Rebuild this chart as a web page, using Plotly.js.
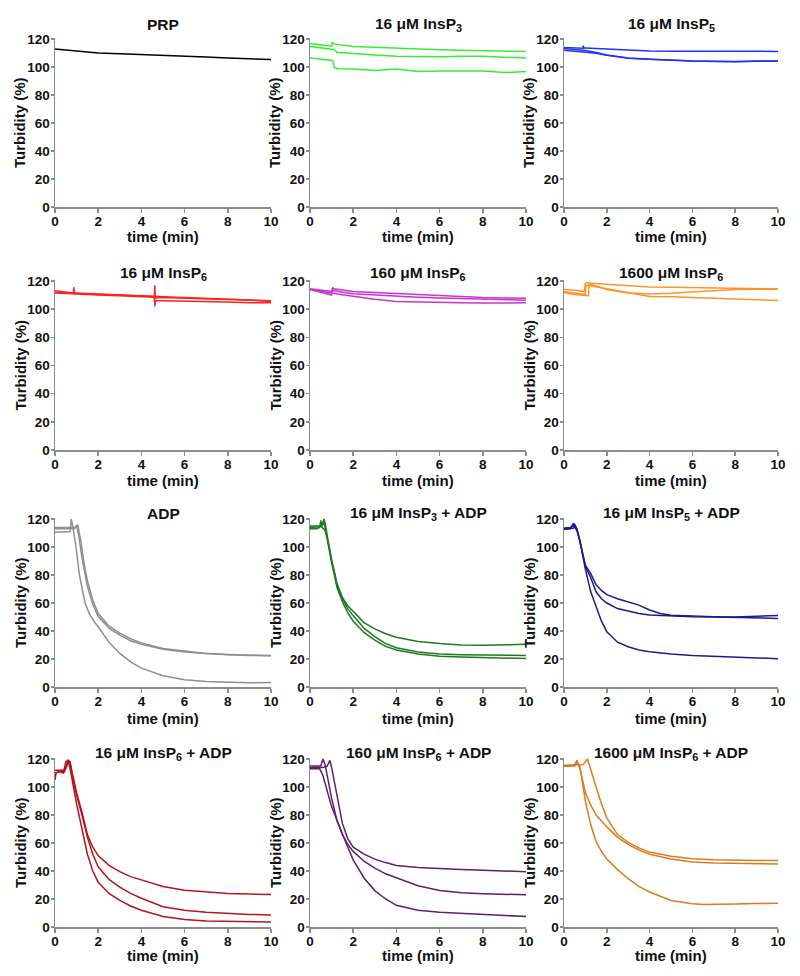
<!DOCTYPE html>
<html>
<head>
<meta charset="utf-8">
<script src="https://cdn.plot.ly/plotly-3.0.1.min.js"></script>
<style>html,body{margin:0;padding:0;background:#fff;}#chart{width:800px;height:976px;}</style>
</head>
<body>
<div id="chart"></div>
<script>
// ---------- DATA ----------
const titles = ["PRP", "16 μM InsP<sub>3</sub>", "16 μM InsP<sub>5</sub>",
  "16 μM InsP<sub>6</sub>", "160 μM InsP<sub>6</sub>", "1600 μM InsP<sub>6</sub>",
  "ADP", "16 μM InsP<sub>3</sub> + ADP", "16 μM InsP<sub>5</sub> + ADP",
  "16 μM InsP<sub>6</sub> + ADP", "160 μM InsP<sub>6</sub> + ADP", "1600 μM InsP<sub>6</sub> + ADP"];
const colors = ["#000000", "#33ee33", "#2233ee", "#ff2020", "#cc33cc", "#ff9326",
  "#8f8f8f", "#1f7a1f", "#1c1c8f", "#b3161c", "#5e1f6e", "#d97b1f"];
const xTicks = [0, 2, 4, 6, 8, 10];
const yTicks = [0, 20, 40, 60, 80, 100, 120];

// Panel 1: PRP
const prpT = [0, 0.5, 1, 1.5, 2, 3, 4, 5, 6, 7, 8, 9, 10];
const prpY = [112.8, 112, 111.2, 110.5, 110, 109.5, 109, 108.5, 108, 107.2, 106.4, 105.8, 105.3];

// Panel 2: 16 uM InsP3
const ip3aT = [0, 0.5, 1.0, 1.03, 1.1, 2, 3, 4, 5, 6, 7, 8, 9, 10];
const ip3aY = [116.8, 115.8, 114.8, 117.8, 116.5, 114.7, 114, 113.5, 113, 112.3, 112, 111.8, 111.3, 111];
const ip3bT = [0, 0.5, 1.0, 1.1, 1.25, 2, 3, 4, 5, 6, 7, 8, 9, 10];
const ip3bY = [114.7, 113.8, 112.8, 112.5, 110.5, 109.5, 108.5, 107.6, 107.4, 107.4, 107.6, 107.6, 107, 106.4];
const ip3cT = [0, 0.5, 1.05, 1.12, 1.3, 2, 3, 4, 5, 6, 7, 8, 9, 10];
const ip3cY = [106.4, 105.5, 104.7, 99.7, 98.8, 98.5, 97.5, 98.5, 96.8, 97.2, 97.3, 97.2, 96, 96.8];

// Panel 3: 16 uM InsP5
const ip5aT = [0, 0.5, 0.88, 0.9, 0.93, 1, 2, 3, 4, 5, 6, 7, 8, 9, 10];
const ip5aY = [113.9, 113.6, 113.4, 115.2, 113.5, 113.5, 112.7, 112, 111.5, 111.3, 111.3, 111.5, 111.8, 111.3, 111];
const ip5bT = [0, 1, 1.5, 2, 2.5, 3, 4, 5, 6, 7, 8, 9, 10];
const ip5bY = [112, 110.8, 109.8, 108.4, 107.2, 106.2, 105.5, 104.7, 104.2, 104, 103.7, 104.2, 104.2];
const ip5cT = [0, 0.5, 1, 1.5, 2, 3, 4, 6, 8, 10];
const ip5cY = [113.2, 112.5, 111.8, 110.3, 108.6, 106.5, 105.5, 104.3, 103.9, 104.3];

// Panel 4: 16 uM InsP6
const ip6aT = [0, 0.85, 0.87, 0.9, 2, 3, 4, 4.6, 4.62, 4.64, 5, 6, 7, 8, 9, 10];
const ip6aY = [113, 111.5, 115.5, 111.5, 110.8, 110, 109.5, 109, 117, 108, 108.3, 107.8, 107.2, 106.8, 106.3, 106];
const ip6bT = [0, 1, 2, 3, 4, 4.6, 4.62, 4.65, 5, 6, 7, 8, 9, 10];
const ip6bY = [111.5, 110.5, 110, 109.5, 109, 108.5, 102, 106.2, 106, 105.8, 105.5, 105, 104.5, 104.5];
const ip6cT = [0, 1, 2, 3, 4, 5, 6, 7, 8, 9, 10];
const ip6cY = [112, 111, 110.5, 110, 109.3, 108.8, 108.3, 107.6, 107, 106.5, 105.5];

// Panel 5: 160 uM InsP6
const m160aT = [0, 0.5, 1.0, 1.05, 1.1, 2, 3, 4, 5, 6, 7, 8, 9, 10];
const m160aY = [114.5, 113.5, 112.5, 115.5, 114.5, 112.5, 111.8, 111, 110.2, 109.5, 109, 108.3, 108, 107.8];
const m160bT = [0, 0.5, 1.0, 1.02, 1.5, 2, 3, 4, 5, 6, 7, 8, 9, 10];
const m160bY = [114, 112, 110, 113.5, 112, 111, 110, 109, 108.5, 108, 107.5, 107, 106.5, 106.3];
const m160cT = [0, 0.5, 1, 1.5, 2, 3, 4, 5, 6, 7, 8, 9, 10];
const m160cY = [114, 113, 111.5, 110.2, 109, 107, 105.5, 105, 104.5, 104.5, 104.3, 104.3, 104.5];

// Panel 6: 1600 uM InsP6
const m1600aT = [0, 0.5, 0.95, 1.0, 1.1, 2, 3, 4, 5, 6, 7, 8, 9, 10];
const m1600aY = [114, 113.5, 112.5, 118.5, 118.5, 117.5, 116.3, 115.7, 115.5, 115.3, 115, 114.6, 114.4, 114.3];
const m1600bT = [0, 0.5, 1.15, 1.17, 1.3, 2, 3, 4, 5, 6, 7, 8, 9, 10];
const m1600bY = [111.8, 110.5, 109.5, 117.5, 117.5, 114, 111.5, 110.8, 111.3, 112.2, 113, 113.9, 114.1, 114.3];
const m1600cT = [0, 0.5, 1.0, 1.02, 1.1, 2, 3, 4, 5, 6, 7, 8, 9, 10];
const m1600cY = [112.3, 111.5, 110.5, 116.5, 117, 114.5, 112, 109, 108.8, 108.3, 107.8, 107, 106.6, 106.2];

// Panel 7: ADP
const adpaT = [0, 0.5, 0.7, 0.75, 0.82, 0.97, 1.13, 1.39, 1.6, 1.8, 2.0, 2.5, 3, 3.5, 4, 5, 6, 7, 8, 9, 10];
const adpaY = [110.5, 110.5, 111, 120, 115, 100, 80, 60, 52, 47, 43, 32, 24, 18, 13.5, 8, 5.2, 4, 3.3, 3, 3.2];
const adpbT = [0, 0.5, 0.9, 1.0, 1.1, 1.25, 1.4, 1.5, 1.75, 2, 2.5, 3, 3.5, 4, 5, 6, 7, 8, 9, 10];
const adpbY = [113, 113, 113, 115.5, 108, 92, 80, 72, 59, 50.5, 42, 37, 33, 30.5, 27, 25, 24, 23, 22.5, 22.3];
const adpcT = [0, 0.5, 0.95, 1.05, 1.2, 1.35, 1.5, 1.75, 2, 2.5, 3, 3.5, 4, 5, 6, 7, 8, 9, 10];
const adpcY = [114, 114, 114, 116, 104, 88, 76, 62, 52.5, 43.5, 38.5, 34.5, 31.5, 27.5, 25.5, 24, 23, 22.5, 22.5];

// Panel 8: 16 uM InsP3 + ADP
const g3aT = [0, 0.3, 0.45, 0.5, 0.55, 0.65, 0.7, 0.8, 1.0, 1.25, 1.5, 1.75, 2, 2.5, 3, 3.5, 4, 5, 6, 7, 8, 9, 10];
const g3aY = [114, 114, 114.5, 115, 116, 120, 117, 108, 91, 74, 64, 58, 54, 46, 41.5, 38, 35.5, 32.5, 31, 30, 29.8, 30, 30.5];
const g3bT = [0, 0.3, 0.45, 0.5, 0.55, 0.7, 0.8, 1.0, 1.25, 1.5, 1.75, 2, 2.5, 3, 3.5, 4, 5, 6, 7, 8, 9, 10];
const g3bY = [113, 113, 114, 119, 114, 112, 106, 90, 73, 63, 56, 51, 42, 36, 31, 28, 25, 23.5, 23, 22.8, 22.5, 22.5];
const g3cT = [0, 0.3, 0.5, 0.6, 0.65, 0.75, 1.0, 1.25, 1.5, 1.75, 2, 2.5, 3, 3.5, 4, 5, 6, 7, 8, 9, 10];
const g3cY = [115, 115, 115, 116, 118, 110, 89, 71, 61, 53, 47, 39, 33.5, 29, 26.5, 23.5, 22, 21.5, 21, 20.8, 20.3];

// Panel 9: 16 uM InsP5 + ADP
const b5aT = [0, 0.3, 0.4, 0.5, 0.6, 0.75, 1.0, 1.25, 1.5, 1.75, 2, 2.5, 3, 3.5, 4, 5, 6, 7, 8, 9, 10];
const b5aY = [113, 113, 116, 114, 112, 104, 84, 68, 57, 47, 39.5, 32, 28.8, 26.5, 25.2, 23.5, 22.5, 22, 21.5, 21, 20.2];
const b5bT = [0, 0.3, 0.45, 0.5, 0.6, 0.75, 1.0, 1.25, 1.5, 1.75, 2, 2.5, 3, 3.5, 4, 5, 6, 7, 8, 9, 10];
const b5bY = [112.5, 113, 113.5, 116, 113, 104, 86, 78, 68, 63, 60, 56, 54, 52.5, 51.5, 50.8, 50.2, 50, 49.5, 49.2, 49];
const b5cT = [0, 0.3, 0.4, 0.45, 0.6, 0.75, 1.0, 1.25, 1.5, 1.75, 2, 2.5, 3, 3.5, 4, 4.5, 5, 6, 7, 8, 9, 10];
const b5cY = [113.5, 114, 115, 117, 113, 104, 87, 81, 73, 69, 66, 63, 60.5, 58.5, 55, 52.5, 51.2, 50.5, 50.2, 50, 50.5, 51];

// Panel 10: 16 uM InsP6 + ADP
const r6aT = [0, 0.2, 0.4, 0.55, 0.6, 0.7, 0.8, 1.0, 1.25, 1.5, 1.75, 2, 2.5, 3, 3.5, 4, 5, 6, 7, 8, 9, 10];
const r6aY = [112, 112, 112, 115, 119, 117, 110, 96, 82, 66, 57, 51, 44, 39.5, 36, 33.5, 29, 26.3, 25, 24, 23.5, 23.2];
const r6bT = [0, 0.2, 0.4, 0.5, 0.6, 0.7, 0.8, 1.0, 1.25, 1.5, 1.75, 2, 2.5, 3, 3.5, 4, 5, 6, 7, 8, 9, 10];
const r6bY = [110, 111, 110, 113, 119, 118, 108, 94, 80, 64, 52, 43, 34, 28.5, 24, 20.5, 14.5, 12, 10.5, 9.6, 9, 8.5];
const r6cT = [0, 0.05, 0.2, 0.4, 0.5, 0.6, 0.7, 0.85, 1.0, 1.25, 1.5, 1.75, 2, 2.5, 3, 3.5, 4, 5, 6, 7, 8, 9, 10];
const r6cY = [105, 110, 111, 111, 118, 119, 113, 100, 88, 70, 52, 40, 32, 24, 19, 15, 12, 7.5, 5.3, 4.3, 4, 3.6, 3.5];

// Panel 11: 160 uM InsP6 + ADP
const p6aT = [0, 0.3, 0.45, 0.6, 0.75, 1.0, 1.25, 1.5, 1.75, 2, 2.5, 3, 3.5, 4, 5, 6, 7, 8, 9, 10];
const p6aY = [113, 113, 113, 108, 99, 86, 76, 66, 57, 48, 35, 26, 20, 15.5, 12, 10.5, 9.8, 9, 8.2, 7.5];
const p6bT = [0, 0.3, 0.5, 0.6, 0.7, 0.8, 1.0, 1.25, 1.5, 1.75, 2, 2.5, 3, 3.5, 4, 5, 6, 7, 8, 9, 10];
const p6bY = [115, 115, 115, 120, 116, 108, 92, 76, 66, 59, 54, 47, 42, 38, 35, 29.5, 26, 24.5, 23.8, 23.2, 23];
const p6cT = [0, 0.3, 0.6, 0.8, 0.92, 1.0, 1.25, 1.5, 1.75, 2, 2.5, 3, 3.5, 4, 5, 6, 7, 8, 9, 10];
const p6cY = [114, 114, 114, 115, 119, 114, 94, 74, 63, 57, 52, 48.5, 46, 44, 42.5, 41.5, 41, 40.5, 40, 39.5];

// Panel 12: 1600 uM InsP6 + ADP
const o6aT = [0, 0.3, 0.5, 0.6, 0.75, 1.0, 1.25, 1.5, 1.75, 2, 2.5, 3, 3.5, 4, 5, 6, 6.5, 7, 8, 9, 10];
const o6aY = [115, 115, 116, 119, 114, 90, 73, 61, 54, 48.5, 41, 34.5, 29, 25, 19, 16.6, 16, 16, 16.4, 16.8, 17];
const o6bT = [0, 0.3, 0.5, 0.6, 0.75, 1.0, 1.25, 1.5, 1.75, 2, 2.5, 3, 3.5, 4, 5, 6, 7, 8, 9, 10];
const o6bY = [115, 115, 115, 118, 113, 96, 87, 80, 75.5, 71.5, 64, 59, 55, 52, 48.5, 46.5, 45.8, 45.5, 45.2, 45];
const o6cT = [0, 0.3, 0.6, 0.9, 1.1, 1.25, 1.5, 1.75, 2, 2.5, 3, 3.5, 4, 5, 6, 7, 8, 9, 10];
const o6cY = [115.5, 115.5, 115.5, 116, 120, 112, 100, 88, 78, 66, 60.5, 56.5, 53.5, 50.5, 48.8, 48, 47.5, 47.5, 47.5];

const panels = [
  [[prpT, prpY]],
  [[ip3aT, ip3aY], [ip3bT, ip3bY], [ip3cT, ip3cY]],
  [[ip5aT, ip5aY], [ip5bT, ip5bY], [ip5cT, ip5cY]],
  [[ip6aT, ip6aY], [ip6bT, ip6bY], [ip6cT, ip6cY]],
  [[m160aT, m160aY], [m160bT, m160bY], [m160cT, m160cY]],
  [[m1600aT, m1600aY], [m1600bT, m1600bY], [m1600cT, m1600cY]],
  [[adpaT, adpaY], [adpbT, adpbY], [adpcT, adpcY]],
  [[g3aT, g3aY], [g3bT, g3bY], [g3cT, g3cY]],
  [[b5aT, b5aY], [b5bT, b5bY], [b5cT, b5cY]],
  [[r6aT, r6aY], [r6bT, r6bY], [r6cT, r6cY]],
  [[p6aT, p6aY], [p6bT, p6bY], [p6cT, p6cY]],
  [[o6aT, o6aY], [o6bT, o6bY], [o6cT, o6cY]]
];

// ---------- LAYOUT ----------
const W = 800, H = 976;
const colX = [[55, 271], [310, 526], [564, 778]];
const rowY = [[39, 207], [281, 450], [519, 687], [759, 927]];
const titleY = [24.5, 273.5, 513.5, 753.5];
const xTitleOff = [29, 30, 31, 28];
const FONT = "Liberation Sans, Arial, sans-serif";
const axisGrey = "#8c8c8c";

const px = v => v / W;
const py = v => 1 - v / H;

const traces = [];
const layout = {
  width: W, height: H,
  margin: {l: 0, r: 0, t: 0, b: 0},
  paper_bgcolor: "#fff", plot_bgcolor: "#fff",
  showlegend: false,
  font: {family: FONT, color: "#111"},
  annotations: []
};

panels.forEach((series, i) => {
  const r = Math.floor(i / 3), c = i % 3;
  const n = i + 1;
  const sfx = n === 1 ? "" : String(n);
  const [top, bot] = rowY[r];
  const pxPerUnit = (bot - top) / 120;
  const topExt = top - pxPerUnit * 1; // range up to 121
  layout["xaxis" + sfx] = {
    domain: [px(colX[c][0]), px(colX[c][1])],
    anchor: "y" + sfx,
    range: [0, 10], tickvals: xTicks, ticktext: xTicks.map(String),
    showline: true, linecolor: axisGrey, linewidth: 1.5,
    ticks: "outside", ticklen: 4, tickwidth: 1.5, tickcolor: axisGrey,
    ticklabelstandoff: -3,
    showgrid: false, zeroline: false,
    tickfont: {family: FONT, size: 13.5, color: "#111", weight: "bold"}
  };
  layout["yaxis" + sfx] = {
    domain: [py(bot), py(topExt)],
    anchor: "x" + sfx,
    range: [0, 121], tickvals: yTicks, ticktext: yTicks.map(String),
    showline: true, linecolor: axisGrey, linewidth: 1.5,
    ticks: "outside", ticklen: 3, tickwidth: 1.5, tickcolor: axisGrey,
    ticklabelstandoff: -2,
    showgrid: false, zeroline: false,
    tickfont: {family: FONT, size: 13.5, color: "#111", weight: "bold"}
  };
  series.forEach(([t, y]) => {
    traces.push({
      type: "scatter", mode: "lines", x: t, y: y,
      xaxis: "x" + sfx, yaxis: "y" + sfx,
      line: {color: colors[i], width: 1.5},
      hoverinfo: "skip"
    });
  });
  // panel title
  layout.annotations.push({
    xref: "paper", yref: "paper",
    x: px((colX[c][0] + colX[c][1]) / 2), y: py(titleY[r]),
    xanchor: "center", yanchor: "middle", showarrow: false,
    text: titles[i],
    font: {family: FONT, size: 15.5, color: "#111", weight: "bold"}
  });
  // x title
  layout.annotations.push({
    xref: "paper", yref: "paper",
    x: px((colX[c][0] + colX[c][1]) / 2), y: py(bot + xTitleOff[r]),
    xanchor: "center", yanchor: "middle", showarrow: false,
    text: "time (min)",
    font: {family: FONT, size: 15, color: "#111", weight: "bold"}
  });
  // y title
  layout.annotations.push({
    xref: "paper", yref: "paper",
    x: px(colX[c][0] - 35), y: py((top + bot) / 2),
    xanchor: "center", yanchor: "middle", showarrow: false, textangle: -90,
    text: "Turbidity (%)",
    font: {family: FONT, size: 15, color: "#111", weight: "bold"}
  });
});

Plotly.newPlot("chart", traces, layout, {staticPlot: true, displayModeBar: false});
</script>
</body>
</html>
